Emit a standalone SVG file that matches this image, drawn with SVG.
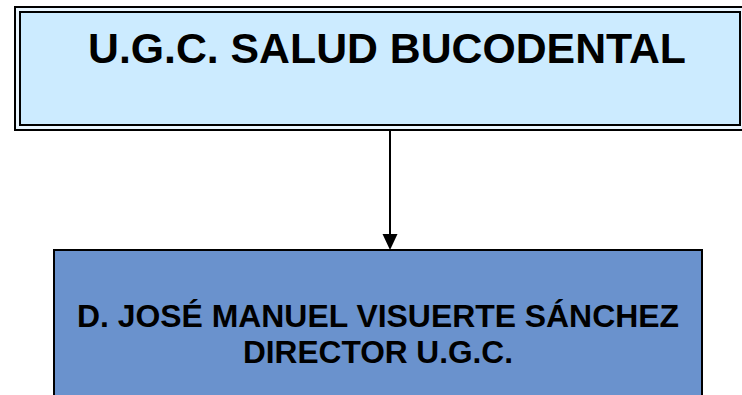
<svg xmlns="http://www.w3.org/2000/svg" width="742" height="395" viewBox="0 0 742 395">
<style>
.t{font-family:"Liberation Sans",Arial,sans-serif;font-weight:bold;fill:#000;text-anchor:middle}
.b{stroke:#000;stroke-width:2}
</style>
<g id="node-ugc">
<rect x="15" y="7" width="730" height="123" fill="#EAF6FF" class="b"/>
<rect x="20" y="12" width="720" height="113" fill="#CCEBFF" class="b"/>
<text class="t" x="387" y="63" font-size="42" textLength="598" lengthAdjust="spacingAndGlyphs">U.G.C. SALUD BUCODENTAL</text>
</g>
<g id="connectors">
<line x1="390" y1="131" x2="390" y2="236" stroke="#000" stroke-width="2"/>
<path d="M382.5,234 L397.5,234 L390,250 Z" fill="#000"/>
</g>
<g id="node-director">
<rect x="54" y="250" width="648" height="160" fill="#6A92CD" class="b"/>
<text class="t" x="378" y="327" font-size="31" textLength="602" lengthAdjust="spacingAndGlyphs">D. JOSÉ MANUEL VISUERTE SÁNCHEZ</text>
<text class="t" x="378" y="363" font-size="31" textLength="270" lengthAdjust="spacingAndGlyphs">DIRECTOR U.G.C.</text>
</g>
</svg>
